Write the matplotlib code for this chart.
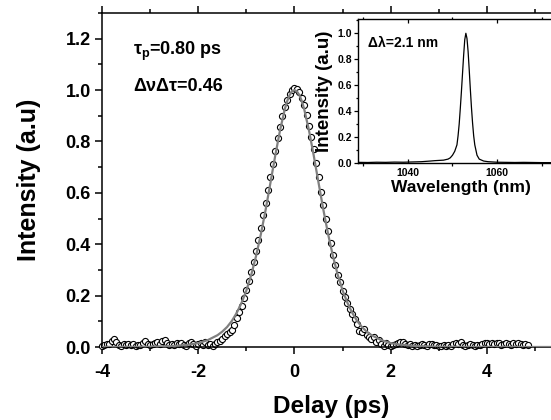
import matplotlib
matplotlib.use("Agg")
import matplotlib.pyplot as plt
from matplotlib.ticker import MultipleLocator

# ---------- Fonts ----------
plt.rcParams["font.family"] = ["Liberation Sans", "DejaVu Sans"]
plt.rcParams["font.weight"] = "bold"
plt.rcParams["axes.unicode_minus"] = False
plt.rcParams["mathtext.fontset"] = "custom"
plt.rcParams["mathtext.rm"] = "Liberation Sans:bold"
plt.rcParams["mathtext.it"] = "Liberation Sans:bold"
plt.rcParams["mathtext.bf"] = "Liberation Sans:bold"

# ---------- Autocorrelation trace ----------
delay = [
    -4.00, -3.95, -3.90, -3.85, -3.80, -3.75, -3.70, -3.65, -3.60, -3.55,
    -3.50, -3.45, -3.40, -3.35, -3.30, -3.25, -3.20, -3.15, -3.10, -3.05,
    -3.00, -2.95, -2.90, -2.85, -2.80, -2.75, -2.70, -2.65, -2.60, -2.55,
    -2.50, -2.45, -2.40, -2.35, -2.30, -2.25, -2.20, -2.15, -2.10, -2.05,
    -2.00, -1.95, -1.90, -1.85, -1.80, -1.75, -1.70, -1.65, -1.60, -1.55,
    -1.50, -1.45, -1.40, -1.35, -1.30, -1.25, -1.20, -1.15, -1.10, -1.05,
    -1.00, -0.95, -0.90, -0.85, -0.80, -0.75, -0.70, -0.65, -0.60, -0.55,
    -0.50, -0.45, -0.40, -0.35, -0.30, -0.25, -0.20, -0.15, -0.10, -0.05,
    0.00, 0.05, 0.10, 0.15, 0.20, 0.25, 0.30, 0.35, 0.40, 0.45,
    0.50, 0.55, 0.60, 0.65, 0.70, 0.75, 0.80, 0.85, 0.90, 0.95,
    1.00, 1.05, 1.10, 1.15, 1.20, 1.25, 1.30, 1.35, 1.40, 1.45,
    1.50, 1.55, 1.60, 1.65, 1.70, 1.75, 1.80, 1.85, 1.90, 1.95,
    2.00, 2.05, 2.10, 2.15, 2.20, 2.25, 2.30, 2.35, 2.40, 2.45,
    2.50, 2.55, 2.60, 2.65, 2.70, 2.75, 2.80, 2.85, 2.90, 2.95,
    3.00, 3.05, 3.10, 3.15, 3.20, 3.25, 3.30, 3.35, 3.40, 3.45,
    3.50, 3.55, 3.60, 3.65, 3.70, 3.75, 3.80, 3.85, 3.90, 3.95,
    4.00, 4.05, 4.10, 4.15, 4.20, 4.25, 4.30, 4.35, 4.40, 4.45,
    4.50, 4.55, 4.60, 4.65, 4.70, 4.75, 4.80, 4.85,
]
intensity = [
    0.005, 0.008, 0.012, 0.010, 0.022, 0.030, 0.018, 0.008, 0.004, 0.010,
    0.006, 0.012, 0.008, 0.010, 0.004, 0.009, 0.007, 0.014, 0.022, 0.012,
    0.006, 0.011, 0.016, 0.019, 0.010, 0.024, 0.026, 0.014, 0.008, 0.012,
    0.006, 0.015, 0.010, 0.017, 0.009, 0.005, 0.014, 0.018, 0.010, 0.004,
    0.012, 0.016, 0.008, 0.020, 0.006, 0.010, 0.004, 0.012, 0.018, 0.022,
    0.030, 0.042, 0.050, 0.058, 0.066, 0.085, 0.112, 0.135, 0.160, 0.192,
    0.222, 0.256, 0.290, 0.330, 0.372, 0.418, 0.462, 0.512, 0.560, 0.610,
    0.662, 0.712, 0.764, 0.812, 0.858, 0.900, 0.935, 0.962, 0.985, 1.000,
    1.008, 1.004, 0.992, 0.968, 0.940, 0.902, 0.862, 0.818, 0.770, 0.718,
    0.662, 0.605, 0.552, 0.500, 0.452, 0.404, 0.360, 0.318, 0.282, 0.252,
    0.218, 0.195, 0.170, 0.148, 0.128, 0.108, 0.090, 0.062, 0.058, 0.072,
    0.048, 0.040, 0.030, 0.038, 0.018, 0.026, 0.010, 0.004, 0.015, 0.006,
    0.002, 0.008, 0.012, 0.016, 0.020, 0.018, 0.010, 0.006, 0.012, 0.004,
    0.008, 0.002, 0.006, 0.010, 0.008, 0.004, 0.010, 0.012, 0.008, 0.006,
    0.004, 0.002, 0.006, 0.003, 0.008, 0.004, 0.012, 0.016, 0.010, 0.018,
    0.006, 0.004, 0.008, 0.010, 0.006, 0.004, 0.008, 0.006, 0.010, 0.016,
    0.014, 0.012, 0.016, 0.010, 0.014, 0.016, 0.008, 0.012, 0.016, 0.010,
    0.008, 0.014, 0.010, 0.016, 0.012, 0.008, 0.010, 0.006,
]

# sech^2 fit curve
fit_delay = [
    -4.0, -3.0, -2.5, -2.2, -2.0, -1.8, -1.6, -1.5, -1.4, -1.3, -1.2, -1.1,
    -1.0, -0.9, -0.8, -0.7, -0.6, -0.5, -0.4, -0.3, -0.2, -0.15, -0.1, -0.05,
    0.0, 0.05, 0.1, 0.15, 0.2, 0.3, 0.4, 0.5, 0.6, 0.7, 0.8, 0.9,
    1.0, 1.1, 1.2, 1.3, 1.4, 1.5, 1.6, 1.8, 2.0, 2.2, 2.5, 3.0, 4.0, 5.35,
]
fit_intensity = [
    0.0001, 0.001, 0.004, 0.009, 0.015, 0.027, 0.046, 0.060, 0.078, 0.102, 0.133, 0.172,
    0.220, 0.280, 0.353, 0.438, 0.534, 0.639, 0.745, 0.844, 0.927, 0.958, 0.981, 0.995,
    1.000, 0.995, 0.981, 0.958, 0.927, 0.844, 0.745, 0.639, 0.534, 0.438, 0.353, 0.280,
    0.220, 0.172, 0.133, 0.102, 0.078, 0.060, 0.046, 0.027, 0.015, 0.009, 0.004, 0.001, 0.0001, 0.0,
]

# ---------- Inset spectrum ----------
wavelength = [
    1029, 1031, 1033, 1035, 1037, 1039, 1041, 1043, 1045, 1046, 1047, 1048,
    1049, 1049.5, 1050, 1050.5, 1051.0, 1051.25, 1051.5, 1051.75, 1052.0,
    1052.25, 1052.5, 1052.75, 1053.0, 1053.25, 1053.5, 1053.75, 1054.0,
    1054.25, 1054.5, 1054.75, 1055.0, 1055.5, 1056, 1057, 1058, 1060, 1062,
    1064, 1066, 1068, 1070, 1072,
]
spectrum = [
    0.005, 0.004, 0.006, 0.005, 0.007, 0.006, 0.008, 0.010, 0.015, 0.018, 0.020, 0.022,
    0.030, 0.040, 0.060, 0.090, 0.140, 0.210, 0.300, 0.420, 0.550,
    0.690, 0.830, 0.950, 1.000, 0.960, 0.860, 0.720, 0.570,
    0.430, 0.310, 0.210, 0.140, 0.060, 0.030, 0.015, 0.010, 0.006, 0.005,
    0.004, 0.005, 0.004, 0.003, 0.003,
]

W, H = 551, 420
fig = plt.figure(figsize=(W / 100, H / 100), dpi=100)

# ---------- Main axes ----------
ax = fig.add_axes([102 / W, 1 - 347 / H, 1 - 102 / W, 334 / H])
ax.plot(delay, intensity, "o", ms=4.4, mfc="white", mec="black", mew=0.8,
        clip_on=False, zorder=2)
ax.plot(fit_delay, fit_intensity, color="#808080", lw=1.6, zorder=3)

ax.set_xlim(-4, 5.33)
ax.set_ylim(0, 1.3)
ax.xaxis.set_major_locator(MultipleLocator(2))
ax.xaxis.set_minor_locator(MultipleLocator(1))
ax.yaxis.set_major_locator(MultipleLocator(0.2))
ax.yaxis.set_minor_locator(MultipleLocator(0.1))
ax.set_yticks([0.0, 0.2, 0.4, 0.6, 0.8, 1.0, 1.2])
ax.tick_params(which="both", direction="out", width=1.1, top=True, right=False,
               labelsize=13, pad=3)
ax.tick_params(which="major", length=5)
ax.tick_params(which="minor", length=3)
ax.tick_params(axis="x", pad=7)
for s in ["left", "bottom", "top"]:
    ax.spines[s].set_linewidth(1.1)
ax.spines["right"].set_visible(False)

ax.set_xlabel("Delay (ps)", fontsize=17.5, fontweight="bold")
ax.set_ylabel("Intensity (a.u)", fontsize=18, fontweight="bold")
ax.xaxis.set_label_coords(0.51, -0.145)
ax.yaxis.set_label_coords(-0.135, 0.5)

fig.text(133 / W, 1 - 55 / H, r"$\tau_p$=0.80 ps", fontsize=13, fontweight="bold",
         va="baseline")
fig.text(133 / W, 1 - 91 / H, "ΔνΔτ=0.46", fontsize=13, fontweight="bold",
         va="baseline")

# ---------- Inset ----------
ax2 = fig.add_axes([358 / W, 1 - 163 / H, 1 - 358 / W, 144 / H])
ax2.plot(wavelength, spectrum, color="black", lw=0.9)
ax2.set_xlim(1028.8, 1072.1)
ax2.set_ylim(0, 1.11)
ax2.xaxis.set_major_locator(MultipleLocator(20))
ax2.xaxis.set_minor_locator(MultipleLocator(10))
ax2.yaxis.set_major_locator(MultipleLocator(0.2))
ax2.yaxis.set_minor_locator(MultipleLocator(0.1))
ax2.set_yticks([0.0, 0.2, 0.4, 0.6, 0.8, 1.0])
ax2.tick_params(which="both", width=0.9, labelsize=7.5, right=False, top=True)
ax2.tick_params(axis="y", direction="out", pad=1.5)
ax2.tick_params(axis="x", direction="in", pad=3.5)
ax2.tick_params(which="major", length=3)
ax2.tick_params(which="minor", length=1.8)
ax2.spines["right"].set_visible(False)
for s in ["left", "bottom", "top"]:
    ax2.spines[s].set_linewidth(1.0)
ax2.set_xlabel("Wavelength (nm)", fontsize=12.5, fontweight="bold")
ax2.set_ylabel("Intensity (a.u)", fontsize=13.5, fontweight="bold")
ax2.xaxis.set_label_coords(0.534, -0.115)
ax2.yaxis.set_label_coords(-0.13, 0.5)

fig.text(368 / W, 1 - 47 / H, "Δλ=2.1 nm", fontsize=10, fontweight="bold",
         va="baseline")

fig.savefig("out.png", dpi=100)
